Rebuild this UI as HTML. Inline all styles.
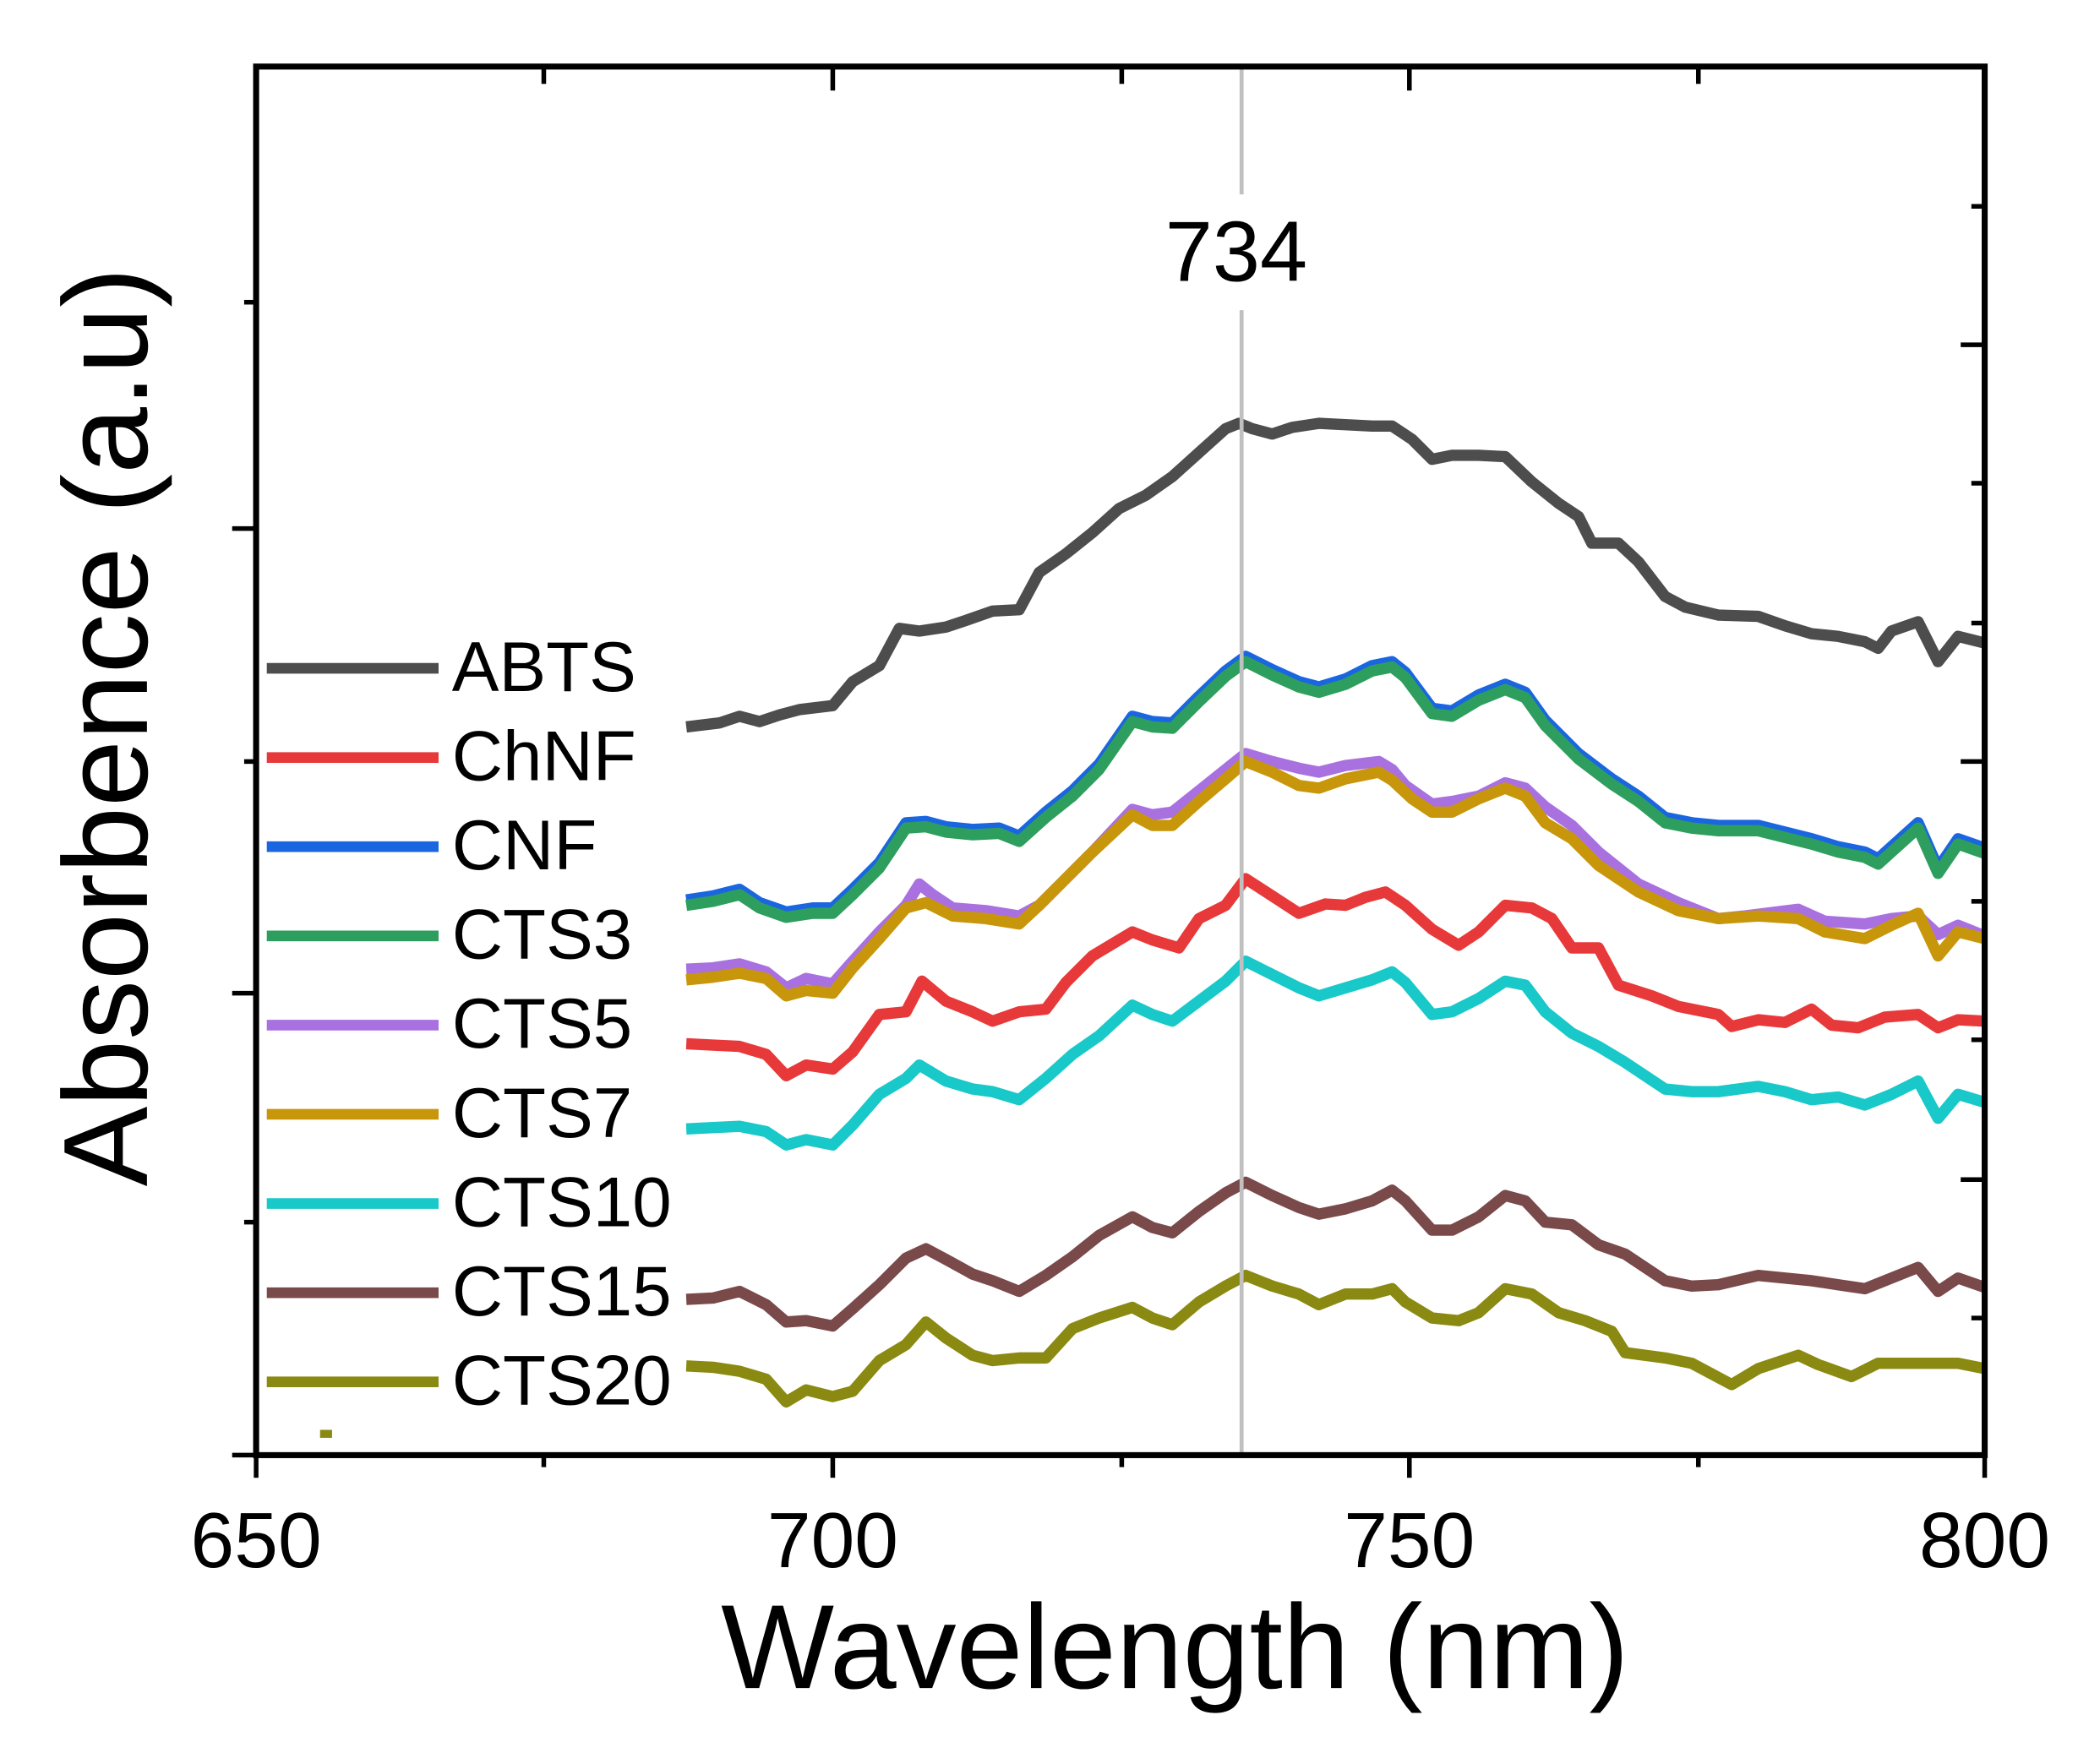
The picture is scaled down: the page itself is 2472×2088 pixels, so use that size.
<!DOCTYPE html>
<html><head><meta charset="utf-8"><style>html,body{margin:0;padding:0;background:#fff}svg{display:block}</style></head>
<body>
<svg width="2472" height="2088" viewBox="0 0 1568 1325" xmlns="http://www.w3.org/2000/svg" font-family="Liberation Sans, Arial, sans-serif">
<rect width="1568" height="1325" fill="#fff"/>
<g fill="none" stroke-width="8.5" stroke-linejoin="round" stroke-linecap="butt">
<polyline stroke="#4d4d4d" points="515,546 540,543 555,538 570,542 585,537 600,533 625,530 640,512 660,500 675,472 690,474 710,471 725,466 745,459 765,458 780,430 800,416 820,400 840,382 860,372 880,358 900,340 920,322 930,318 940,322 955,326 970,321 990,318 1010,319 1030,320 1045,320 1060,330 1075,345 1090,342 1110,342 1130,343 1150,362 1170,378 1185,388 1195,408 1215,408 1230,422 1250,448 1265,456 1290,462 1320,463 1340,470 1360,476 1380,478 1400,482 1410,487 1420,474 1440,467 1455,497 1470,478 1490,483"/>
<polyline stroke="#1a66e0" points="515,676 535,673 555,668 570,678 590,685 610,682 625,682 640,668 660,648 680,618 695,617 710,621 730,623 750,622 765,628 785,610 805,594 825,574 850,538 865,542 880,543 900,523 920,504 935,493 955,503 975,512 990,516 1010,510 1030,500 1045,497 1055,505 1075,532 1090,534 1110,522 1130,514 1145,520 1160,541 1185,566 1210,585 1230,598 1250,614 1270,618 1290,620 1320,620 1340,625 1360,630 1380,636 1400,640 1410,645 1420,636 1440,618 1455,652 1470,630 1490,637"/>
<polyline stroke="#2e9e5e" transform="translate(0,4)" points="515,676 535,673 555,668 570,678 590,685 610,682 625,682 640,668 660,648 680,618 695,617 710,621 730,623 750,622 765,628 785,610 805,594 825,574 850,538 865,542 880,543 900,523 920,504 935,493 955,503 975,512 990,516 1010,510 1030,500 1045,497 1055,505 1075,532 1090,534 1110,522 1130,514 1145,520 1160,541 1185,566 1210,585 1230,598 1250,614 1270,618 1290,620 1320,620 1340,625 1360,630 1380,636 1400,640 1410,645 1420,636 1440,618 1455,652 1470,630 1490,637"/>
<polyline stroke="#a970e0" points="515,728 535,727 555,724 575,730 590,742 605,735 625,739 640,722 660,700 680,680 690,664 700,672 715,682 740,684 765,688 780,680 800,660 820,640 850,608 865,612 880,610 900,594 920,578 935,566 955,572 975,577 990,580 1010,575 1035,572 1045,578 1055,590 1075,604 1090,602 1110,598 1130,588 1145,592 1160,606 1180,620 1200,640 1230,664 1260,678 1290,690 1310,688 1350,683 1370,692 1400,694 1420,690 1440,688 1455,702 1470,695 1490,703"/>
<polyline stroke="#c8960a" points="515,736 535,734 555,731 575,735 590,748 605,744 625,746 640,727 660,705 680,682 695,678 715,688 740,690 765,694 780,680 800,660 820,640 850,612 865,620 880,620 900,602 920,585 935,572 955,580 975,590 990,592 1010,585 1035,580 1045,586 1060,600 1075,610 1090,610 1110,600 1130,592 1145,598 1160,618 1180,630 1200,650 1230,670 1260,684 1290,690 1320,688 1350,690 1370,700 1400,705 1420,695 1440,686 1455,718 1470,700 1490,705"/>
<polyline stroke="#e8393a" points="515,784 535,785 555,786 575,792 590,808 605,800 625,803 640,790 660,762 680,760 692,737 710,752 730,760 745,767 765,760 785,758 800,738 820,718 850,700 865,706 885,712 900,690 920,680 935,660 955,673 975,686 995,679 1010,680 1025,674 1040,670 1055,680 1075,698 1095,710 1110,700 1130,680 1150,682 1165,690 1180,712 1200,712 1215,740 1240,748 1260,756 1290,762 1300,771 1320,766 1340,768 1360,758 1375,770 1395,772 1415,764 1440,762 1455,772 1470,766 1490,767"/>
<polyline stroke="#19c8c8" points="515,848 535,847 555,846 575,850 590,860 605,856 625,860 640,845 660,822 680,810 690,800 710,812 730,818 745,820 765,826 785,810 805,792 825,778 850,755 865,762 880,767 900,752 920,737 935,722 955,732 975,742 990,748 1010,742 1030,736 1045,730 1055,738 1075,762 1090,760 1110,750 1130,737 1145,740 1160,760 1180,776 1200,786 1220,798 1250,818 1270,820 1290,820 1320,816 1340,820 1360,826 1380,824 1400,830 1420,822 1440,812 1455,840 1470,822 1490,828"/>
<polyline stroke="#7a4a4a" points="515,976 535,975 555,970 575,980 590,993 605,992 625,996 640,983 660,965 680,945 695,938 710,946 730,957 745,962 765,970 785,958 805,944 825,928 850,914 865,922 880,926 900,910 920,896 935,888 955,898 975,907 990,912 1010,908 1030,902 1045,894 1055,902 1075,924 1090,924 1110,914 1130,898 1145,902 1160,918 1180,920 1200,935 1220,942 1250,962 1270,966 1290,965 1320,958 1340,960 1360,962 1380,965 1400,968 1420,960 1440,952 1455,970 1470,960 1490,967"/>
<polyline stroke="#8a8a12" points="515,1026 535,1027 555,1030 575,1036 590,1053 605,1044 625,1049 640,1045 660,1022 680,1010 695,993 710,1005 730,1018 745,1022 765,1020 785,1020 805,998 825,990 850,982 865,990 880,995 900,978 920,966 935,958 955,966 975,972 990,980 1010,972 1030,972 1045,968 1055,978 1075,990 1095,992 1110,986 1130,968 1150,972 1170,986 1190,992 1210,1000 1220,1016 1250,1020 1270,1024 1300,1040 1320,1028 1350,1018 1365,1025 1390,1034 1410,1024 1440,1024 1470,1024 1490,1028"/>
</g>
<rect x="240" y="1074" width="9" height="6" fill="#8a8a12"/>
<line x1="932" y1="50" x2="932" y2="146" stroke="#c0c0c0" stroke-width="3"/>
<line x1="932" y1="233" x2="932" y2="1093" stroke="#c0c0c0" stroke-width="3"/>
<text x="928" y="211" font-size="64" text-anchor="middle" fill="#000">734</text>
<g stroke-width="8">
<line x1="200" y1="502" x2="329" y2="502" stroke="#4d4d4d"/>
<line x1="200" y1="569" x2="329" y2="569" stroke="#e8393a"/>
<line x1="200" y1="636" x2="329" y2="636" stroke="#1a66e0"/>
<line x1="200" y1="703" x2="329" y2="703" stroke="#2e9e5e"/>
<line x1="200" y1="770" x2="329" y2="770" stroke="#a970e0"/>
<line x1="200" y1="837" x2="329" y2="837" stroke="#c8960a"/>
<line x1="200" y1="904" x2="329" y2="904" stroke="#19c8c8"/>
<line x1="200" y1="971" x2="329" y2="971" stroke="#7a4a4a"/>
<line x1="200" y1="1038" x2="329" y2="1038" stroke="#8a8a12"/>
</g>
<g font-size="53" fill="#000">
<text x="339" y="519">ABTS</text>
<text x="339" y="586">ChNF</text>
<text x="339" y="653">CNF</text>
<text x="339" y="720">CTS3</text>
<text x="339" y="787">CTS5</text>
<text x="339" y="854">CTS7</text>
<text x="339" y="921">CTS10</text>
<text x="339" y="988">CTS15</text>
<text x="339" y="1055">CTS20</text>
</g>
<rect x="192" y="50" width="1298" height="1043" fill="none" stroke="#000" stroke-width="4.5"/>
<g stroke="#000" stroke-width="3.5">
<line x1="192" y1="1093" x2="192" y2="1110"/><line x1="625" y1="1093" x2="625" y2="1110"/><line x1="1058" y1="1093" x2="1058" y2="1110"/><line x1="1490" y1="1093" x2="1490" y2="1110"/>
<line x1="408" y1="1093" x2="408" y2="1102"/><line x1="842" y1="1093" x2="842" y2="1102"/><line x1="1275" y1="1093" x2="1275" y2="1102"/>
<line x1="408" y1="50" x2="408" y2="63"/><line x1="625" y1="50" x2="625" y2="68"/><line x1="842" y1="50" x2="842" y2="63"/><line x1="1058" y1="50" x2="1058" y2="68"/><line x1="1275" y1="50" x2="1275" y2="63"/>
<line x1="174" y1="397" x2="192" y2="397"/><line x1="174" y1="746" x2="192" y2="746"/><line x1="174" y1="1093" x2="192" y2="1093"/>
<line x1="183" y1="227" x2="192" y2="227"/><line x1="183" y1="572" x2="192" y2="572"/><line x1="183" y1="918" x2="192" y2="918"/>
<line x1="1472" y1="259" x2="1490" y2="259"/><line x1="1472" y1="572" x2="1490" y2="572"/><line x1="1472" y1="886" x2="1490" y2="886"/>
<line x1="1480" y1="155" x2="1490" y2="155"/><line x1="1480" y1="363" x2="1490" y2="363"/><line x1="1480" y1="468" x2="1490" y2="468"/><line x1="1480" y1="677" x2="1490" y2="677"/><line x1="1480" y1="781" x2="1490" y2="781"/><line x1="1480" y1="990" x2="1490" y2="990"/>
</g>
<g font-size="59" fill="#000" text-anchor="middle">
<text x="192" y="1177">650</text><text x="625" y="1177">700</text><text x="1058" y="1177">750</text><text x="1490" y="1177">800</text>
</g>
<text x="882" y="1268" font-size="90" text-anchor="middle" fill="#000">Wavelength (nm)</text>
<text transform="translate(110,546) rotate(-90)" font-size="90" text-anchor="middle" fill="#000">Absorbence (a.u)</text>
</svg>
</body></html>
